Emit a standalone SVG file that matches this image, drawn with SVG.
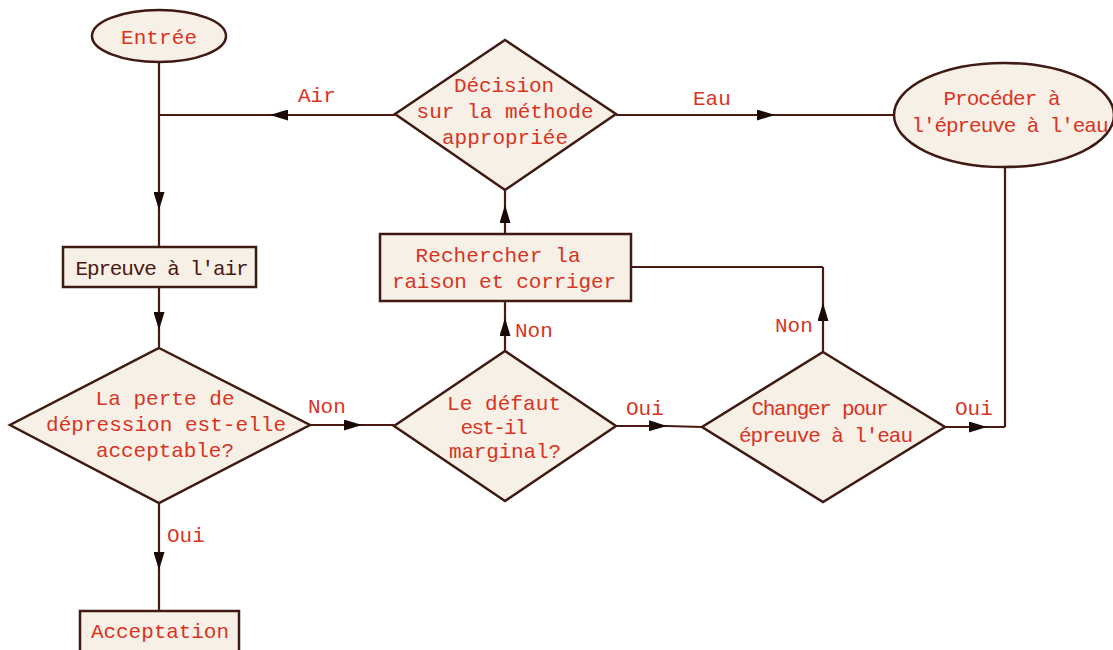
<svg xmlns="http://www.w3.org/2000/svg" width="1113" height="650" viewBox="0 0 1113 650">
<style>
.shape{fill:#f7f0e7;stroke:#3f1a12;stroke-width:2.5}
.conn{fill:none;stroke:#4a1a12;stroke-width:2.2;marker-mid:url(#arr)}
.plain{fill:none;stroke:#4a1a12;stroke-width:2.2}
text{font-family:"Liberation Mono","DejaVu Sans Mono",monospace;font-size:21px;fill:#d8341f}
.c{text-anchor:middle}
.dark{fill:#4a1812}
</style>
<defs>
<marker id="arr" viewBox="0 0 18 11" refX="18" refY="5.5" markerWidth="18" markerHeight="11" orient="auto" markerUnits="userSpaceOnUse">
<path d="M0,0 L18,5.5 L0,11 Z" fill="#1a0a06"/>
</marker>
</defs>
<rect width="1113" height="650" fill="#ffffff"/>
<g id="connectors">
<path class="conn" d="M159,63 L159,210 L159,247"/>
<path class="conn" d="M395,115 L270,115 L159,115"/>
<path class="conn" d="M159,287 L159,330 L159,347"/>
<path class="conn" d="M310,425 L362,425 L394,425"/>
<path class="conn" d="M159,503 L159,570 L159,611"/>
<path class="conn" d="M505,351 L505,318 L505,302"/>
<path class="conn" d="M505,234 L505,205 L505,190"/>
<path class="conn" d="M616,115 L775,115 L895,115"/>
<path class="conn" d="M616,426 L667,426 L702,427"/>
<path class="conn" d="M823,352 L823,303 L823,267"/>
<path class="plain" d="M823,267 L631,267"/>
<path class="conn" d="M945,427 L987,427 L1005,427"/>
<path class="plain" d="M1005,427 L1005,168"/>
</g>
<g id="entree">
<ellipse class="shape" cx="159" cy="36" rx="67" ry="26"/>
<text class="c" x="159" y="44" textLength="76" lengthAdjust="spacing">Entrée</text>
</g>
<g id="decision">
<polygon class="shape" points="505,40 616,114 505,190 395,114"/>
<text class="c" x="504" y="92" textLength="100" lengthAdjust="spacing">Décision</text>
<text class="c" x="505" y="118" textLength="177" lengthAdjust="spacing">sur la méthode</text>
<text class="c" x="505" y="144" textLength="126" lengthAdjust="spacing">appropriée</text>
</g>
<g id="eau">
<ellipse class="shape" cx="1004" cy="115" rx="110" ry="52"/>
<text class="c" x="1002" y="105" textLength="117" lengthAdjust="spacing">Procéder à</text>
<text class="c" x="1010" y="132" textLength="197" lengthAdjust="spacing">l'épreuve à l'eau</text>
</g>
<g id="epreuve-air">
<rect class="shape" x="63" y="247" width="193" height="40"/>
<text class="c dark" x="162" y="275" textLength="173" lengthAdjust="spacing">Epreuve à l'air</text>
</g>
<g id="rechercher">
<rect class="shape" x="380" y="234" width="251" height="67"/>
<text class="c" x="498" y="262" textLength="165" lengthAdjust="spacing">Rechercher la</text>
<text class="c" x="504" y="288" textLength="224" lengthAdjust="spacing">raison et corriger</text>
</g>
<g id="perte">
<polygon class="shape" points="159,348 310,425 159,503 10,425"/>
<text class="c" x="165" y="405" textLength="139" lengthAdjust="spacing">La perte de</text>
<text class="c" x="166" y="431" textLength="240" lengthAdjust="spacing">dépression est-elle</text>
<text class="c" x="165" y="457" textLength="138" lengthAdjust="spacing">acceptable?</text>
</g>
<g id="defaut">
<polygon class="shape" points="505,351 616,426 505,501 394,426"/>
<text class="c" x="504" y="410" textLength="114" lengthAdjust="spacing">Le défaut</text>
<text class="c" x="494" y="434" textLength="67" lengthAdjust="spacing">est-il</text>
<text class="c" x="505" y="458" textLength="112" lengthAdjust="spacing">marginal?</text>
</g>
<g id="changer">
<polygon class="shape" points="823,352 945,427 823,502 702,427"/>
<text class="c" x="820" y="415" textLength="137" lengthAdjust="spacing">Changer pour</text>
<text class="c" x="826" y="442" textLength="174" lengthAdjust="spacing">épreuve à l'eau</text>
</g>
<g id="acceptation">
<rect class="shape" x="80" y="611" width="159" height="45"/>
<text class="c" x="160" y="638" textLength="138" lengthAdjust="spacing">Acceptation</text>
</g>
<g id="labels">
<text x="298" y="102">Air</text>
<text x="693" y="105">Eau</text>
<text x="308" y="413">Non</text>
<text x="167" y="542">Oui</text>
<text x="515" y="337">Non</text>
<text x="626" y="415">Oui</text>
<text x="775" y="332">Non</text>
<text x="955" y="415">Oui</text>
</g>
</svg>
